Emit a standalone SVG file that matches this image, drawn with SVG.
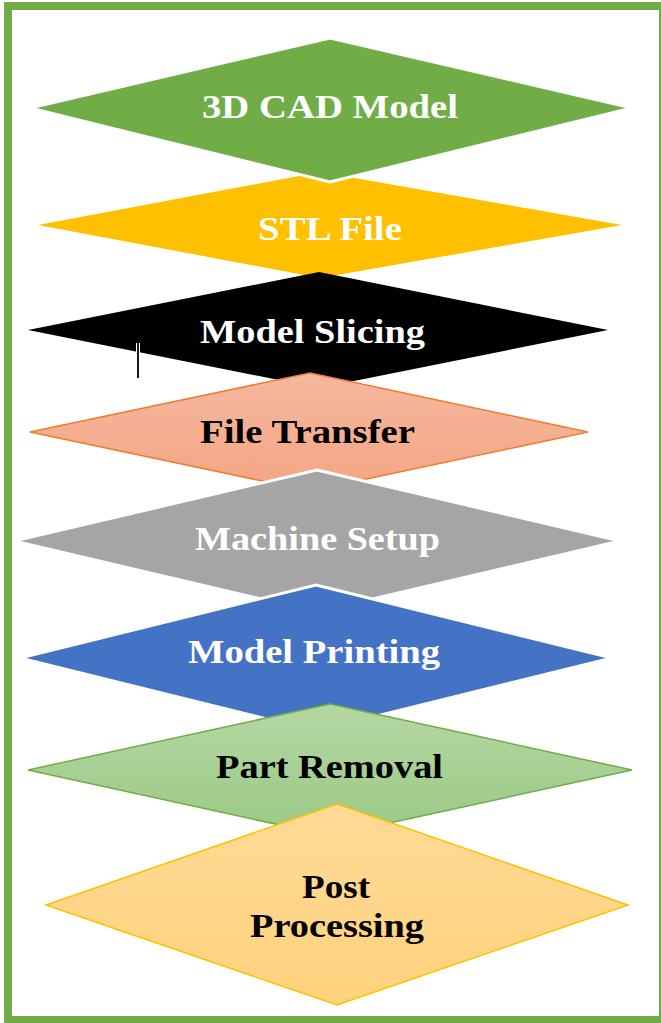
<svg xmlns="http://www.w3.org/2000/svg" width="661" height="1023" viewBox="0 0 661 1023">
  <defs>
    <linearGradient id="gSalmon" x1="0" y1="0" x2="0" y2="1">
      <stop offset="0" stop-color="#F5B79E"/>
      <stop offset="1" stop-color="#F4A683"/>
    </linearGradient>
    <linearGradient id="gLightGreen" x1="0" y1="0" x2="0" y2="1">
      <stop offset="0" stop-color="#B5D7A3"/>
      <stop offset="1" stop-color="#9AC985"/>
    </linearGradient>
    <linearGradient id="gPost" x1="0" y1="0" x2="0" y2="1">
      <stop offset="0" stop-color="#FFDA97"/>
      <stop offset="1" stop-color="#FFD27C"/>
    </linearGradient>
  </defs>
  <style>
    .lbl { font-family: "Liberation Serif", "Times New Roman", serif; font-weight: bold; font-size: 33px; }
    .w { fill: #FFFFFF; }
    .k { fill: #000000; }
  </style>
  <rect x="0" y="0" width="661" height="1023" fill="#FFFFFF"/>
  <rect id="frame" x="8" y="6" width="655" height="1014" fill="#FFFFFF" stroke="#70AD47" stroke-width="8"/>

  <g id="connectors"></g>

  <g id="node-stl">
    <polygon points="320,172 622,225 320,278 38,225" fill="#FFC000"/>
    <text class="lbl w" x="258" y="240" textLength="144" lengthAdjust="spacingAndGlyphs">STL File</text>
  </g>
  <g id="node-cad">
    <polygon points="330,38 632,108 330,182 30,108" fill="#70AD47" stroke="#FFFFFF" stroke-width="3"/>
    <text class="lbl w" x="202" y="118" textLength="256" lengthAdjust="spacingAndGlyphs">3D CAD Model</text>
  </g>
  <g id="node-slicing">
    <polygon points="319,272 608,330 319,388 28,330" fill="#000000"/>
    <text class="lbl w" x="200" y="343" textLength="225" lengthAdjust="spacingAndGlyphs">Model Slicing</text>
  </g>
  <g id="node-transfer">
    <polygon points="310,373 588,432 310,491 30,432" fill="url(#gSalmon)" stroke="#ED7D31" stroke-width="1.5"/>
    <text class="lbl k" x="200" y="443" textLength="215" lengthAdjust="spacingAndGlyphs">File Transfer</text>
  </g>
  <g id="node-setup">
    <polygon points="317,470 620,541 317,612 14,541" fill="#A5A5A5" stroke="#FFFFFF" stroke-width="3"/>
    <text class="lbl w" x="195" y="550" textLength="245" lengthAdjust="spacingAndGlyphs">Machine Setup</text>
  </g>
  <g id="node-printing">
    <polygon points="316,585 612,658 316,731 20,658" fill="#4472C4" stroke="#FFFFFF" stroke-width="3"/>
    <text class="lbl w" x="188" y="663" textLength="252" lengthAdjust="spacingAndGlyphs">Model Printing</text>
  </g>
  <g id="node-removal">
    <polygon points="330,704 632,770 330,836 28,770" fill="url(#gLightGreen)" stroke="#70AD47" stroke-width="1.5"/>
    <text class="lbl k" x="216" y="778" textLength="227" lengthAdjust="spacingAndGlyphs">Part Removal</text>
  </g>
  <g id="node-post">
    <polygon points="337,804 628,905 337,1005 46,905" fill="url(#gPost)" stroke="#FFC000" stroke-width="1.5"/>
    <text class="lbl k" x="302" y="898" textLength="68" lengthAdjust="spacingAndGlyphs">Post</text>
    <text class="lbl k" x="250" y="937" textLength="174" lengthAdjust="spacingAndGlyphs">Processing</text>
  </g>

  <g id="cursor-mark">
    <line x1="138" y1="343" x2="138" y2="378" stroke="#FFFFFF" stroke-width="4"/>
    <line x1="138" y1="343" x2="138" y2="378" stroke="#000000" stroke-width="1.8"/>
  </g>
</svg>
